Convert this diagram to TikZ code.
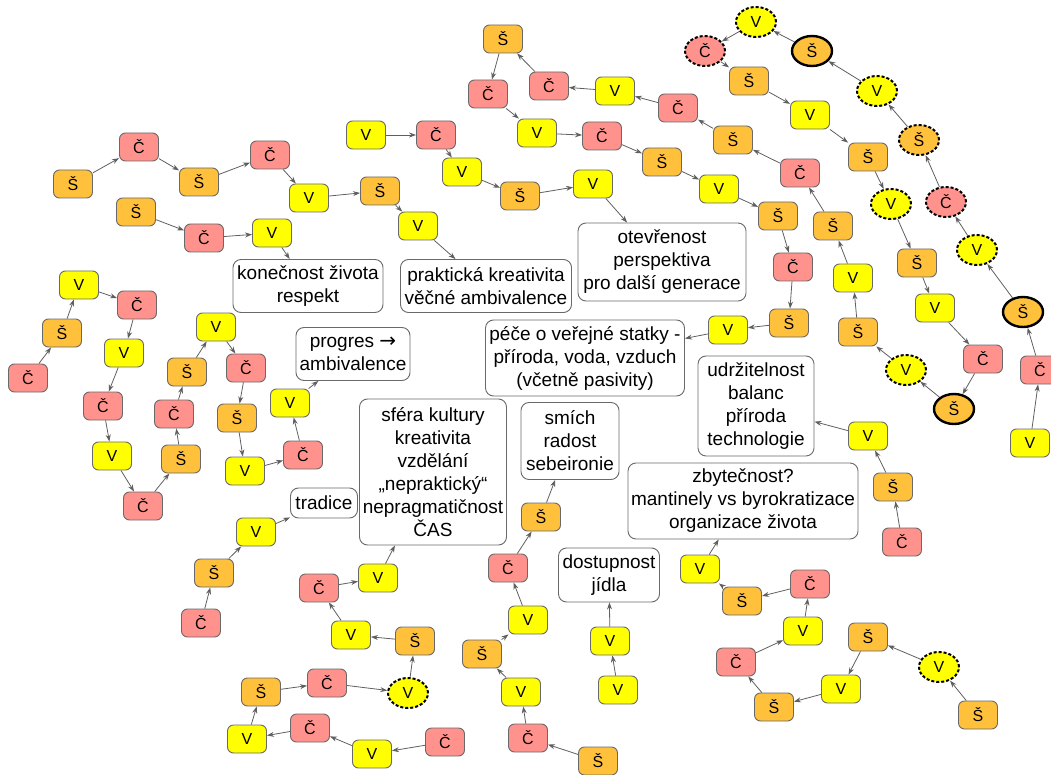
\documentclass[tikz,border=0pt]{standalone}
\usepackage{fontspec}
\setmainfont{Liberation Sans}
\newfontfamily\arrowfont{DejaVu Sans}
\usetikzlibrary{arrows.meta,shapes.geometric}
\definecolor{sorange}{RGB}{255,192,60}
\definecolor{cpink}{RGB}{255,146,140}
\definecolor{vyellow}{RGB}{255,255,0}
\definecolor{edgegray}{RGB}{95,95,95}
\definecolor{rimgray}{RGB}{105,105,105}
\tikzset{
  tok/.style={draw=rimgray, line width=0.9pt, rounded corners=6pt,
    minimum width=39pt, minimum height=28pt, inner sep=0pt,
    font=\fontsize{16}{16}\selectfont},
  ns/.style={tok, fill=sorange},
  nc/.style={tok, fill=cpink},
  nv/.style={tok, fill=vyellow},
  elld/.style={ellipse, sharp corners, draw=black, line width=2pt,
    dash pattern=on 3pt off 2pt, minimum width=40pt, minimum height=30pt},
  ellt/.style={ellipse, sharp corners, draw=black, line width=2.4pt,
    minimum width=40pt, minimum height=30pt},
  tbox/.style={draw=rimgray, line width=0.9pt, rounded corners=8pt,
    fill=white, align=center, inner sep=0pt,
    font=\fontsize{19}{23}\selectfont},
  arr/.style={draw=edgegray, line width=0.8pt,
    -{Stealth[length=7pt,width=5pt]}}
}
\begin{document}
\begin{tikzpicture}[x=1pt,y=-1pt]
\useasboundingbox (0,0) rectangle (1051,775);

% ---- text boxes ----
\node[tbox, minimum width=150pt, minimum height=53pt] (kone) at (308,286) {konečnost života\\respekt};
\node[tbox, minimum width=171pt, minimum height=53pt] (prak) at (486,286) {praktická kreativita\\věčné ambivalence};
\node[tbox, minimum width=114pt, minimum height=53pt] (prog) at (353,354) {progres {\arrowfont\fontsize{20}{23}\selectfont →}\\ambivalence};
\node[tbox, minimum width=168pt, minimum height=78pt] (otev) at (662,262) {otevřenost\\perspektiva\\pro další generace};
\node[tbox, minimum width=199pt, minimum height=76pt] (pece) at (585,358) {péče o veřejné statky -\\příroda, voda, vzduch\\(včetně pasivity)};
\node[tbox, minimum width=116pt, minimum height=100pt] (udrz) at (756,406) {udržitelnost\\balanc\\příroda\\technologie};
\node[tbox, minimum width=230pt, minimum height=76pt] (zbyt) at (743,501) {zbytečnost?\\mantinely vs byrokratizace\\organizace života};
\node[tbox, minimum width=98pt, minimum height=77pt] (smich) at (570,441) {smích\\radost\\sebeironie};
\node[tbox, minimum width=147pt, minimum height=146pt] (sfera) at (433,472) {sféra kultury\\kreativita\\vzdělání\\„nepraktický“\\nepragmatičnost\\ČAS};
\node[tbox, minimum width=101pt, minimum height=54pt] (dost) at (609,575) {dostupnost\\jídla};
\node[tbox, minimum width=67pt, minimum height=30pt] (trad) at (324,503) {tradice};

% ---- chain towards "praktická kreativita" ----
\node[ns] (a1) at (73,184) {Š};
\node[nc] (a2) at (139,147) {Č};
\node[ns] (a3) at (199,182) {Š};
\node[nc] (a4) at (270,155) {Č};
\node[nv] (a5) at (309,198) {V};
\node[ns] (a6) at (380,191) {Š};
\node[nv] (a7) at (418,226) {V};

% ---- chain towards "konečnost života" ----
\node[ns] (b1) at (136,212) {Š};
\node[nc] (b2) at (204,238) {Č};
\node[nv] (b3) at (272,233) {V};

% ---- left zig-zag towards "progres" ----
\node[nc] (c1) at (28,378) {Č};
\node[ns] (c2) at (62,333) {Š};
\node[nv] (c3) at (79,285) {V};
\node[nc] (c4) at (137,305) {Č};
\node[nv] (c5) at (124,353) {V};
\node[nc] (c6) at (103,406) {Č};
\node[nv] (c7) at (112,456) {V};
\node[nc] (c8) at (143,506) {Č};
\node[ns] (c9) at (181,459) {Š};
\node[nc] (c10) at (174,414) {Č};
\node[ns] (c11) at (187,372) {Š};
\node[nv] (c12) at (216,327) {V};
\node[nc] (c13) at (246,368) {Č};
\node[ns] (c14) at (237,418) {Š};
\node[nv] (c15) at (245,471) {V};
\node[nc] (c16) at (303,455) {Č};
\node[nv] (c17) at (290,403) {V};

% ---- chain towards "otevřenost" ----
\node[nv] (d1) at (366,135) {V};
\node[nc] (d2) at (436,135) {Č};
\node[nv] (d3) at (462,172) {V};
\node[ns] (d4) at (520,196) {Š};
\node[nv] (d5) at (593,184) {V};

% ---- long chain towards "péče o veřejné statky" ----
\node[nv] (e1) at (1030,443) {V};
\node[nc] (e2) at (1040,370) {Č};
\node[ellt, fill=sorange, font=\fontsize{16}{16}\selectfont] (e3) at (1023,312) {Š};
\node[elld, fill=vyellow, font=\fontsize{16}{16}\selectfont] (e4) at (977,250) {V};
\node[elld, fill=cpink, font=\fontsize{16}{16}\selectfont] (e5) at (946,202) {Č};
\node[elld, fill=sorange, font=\fontsize{16}{16}\selectfont] (e6) at (919,140) {Š};
\node[elld, fill=vyellow, font=\fontsize{16}{16}\selectfont] (e7) at (877,91) {V};
\node[ellt, fill=sorange, font=\fontsize{16}{16}\selectfont] (e8) at (812,51) {Š};
\node[elld, fill=vyellow, font=\fontsize{16}{16}\selectfont] (e9) at (756,22) {V};
\node[elld, fill=cpink, font=\fontsize{16}{16}\selectfont] (e10) at (705,51) {Č};
\node[ns] (e11) at (749,81) {Š};
\node[nv] (e12) at (810,115) {V};
\node[ns] (e13) at (868,157) {Š};
\node[elld, fill=vyellow, font=\fontsize{16}{16}\selectfont] (e14) at (891,204) {V};
\node[ns] (e15) at (917,263) {Š};
\node[nv] (e16) at (935,308) {V};
\node[nc] (e17) at (983,359) {Č};
\node[ellt, fill=sorange, font=\fontsize{16}{16}\selectfont] (e18) at (954,409) {Š};
\node[elld, fill=vyellow, font=\fontsize{16}{16}\selectfont] (e19) at (906,370) {V};
\node[ns] (e20) at (858,332) {Š};
\node[nv] (e21) at (853,278) {V};
\node[ns] (e22) at (833,226) {Š};
\node[nc] (e23) at (800,173) {Č};
\node[ns] (e24) at (733,140) {Š};
\node[nc] (e25) at (678,108) {Č};
\node[nv] (e26) at (615,91) {V};
\node[nc] (e27) at (549,86) {Č};
\node[ns] (e28) at (503,39) {Š};
\node[nc] (e29) at (488,94) {Č};
\node[nv] (e30) at (537,133) {V};
\node[nc] (e31) at (602,136) {Č};
\node[ns] (e32) at (662,162) {Š};
\node[nv] (e33) at (719,189) {V};
\node[ns] (e34) at (778,216) {Š};
\node[nc] (e35) at (793,267) {Č};
\node[ns] (e36) at (789,323) {Š};
\node[nv] (e37) at (728,330) {V};

% ---- chain towards "udržitelnost" ----
\node[nc] (f1) at (902,542) {Č};
\node[ns] (f2) at (893,487) {Š};
\node[nv] (f3) at (868,436) {V};

% ---- chain towards "tradice" ----
\node[nc] (g1) at (201,623) {Č};
\node[ns] (g2) at (214,573) {Š};
\node[nv] (g3) at (256,532) {V};

% ---- chain towards "sféra kultury" ----
\node[nc] (h1) at (445,742) {Č};
\node[nv] (h2) at (372,754) {V};
\node[nc] (h3) at (310,728) {Č};
\node[nv] (h4) at (247,739) {V};
\node[ns] (h5) at (261,692) {Š};
\node[nc] (h6) at (327,683) {Č};
\node[elld, fill=vyellow, font=\fontsize{16}{16}\selectfont] (h7) at (408,693) {V};
\node[ns] (h8) at (415,641) {Š};
\node[nv] (h9) at (351,635) {V};
\node[nc] (h10) at (319,588) {Č};
\node[nv] (h11) at (378,578) {V};

% ---- chain towards "smích" ----
\node[ns] (i1) at (598,761) {Š};
\node[nc] (i2) at (528,738) {Č};
\node[nv] (i3) at (521,692) {V};
\node[ns] (i4) at (482,654) {Š};
\node[nv] (i5) at (528,620) {V};
\node[nc] (i6) at (508,568) {Č};
\node[ns] (i7) at (541,517) {Š};

% ---- chain towards "dostupnost" ----
\node[nv] (j1) at (618,690) {V};
\node[nv] (j2) at (610,641) {V};

% ---- chain towards "zbytečnost" ----
\node[ns] (k1) at (978,715) {Š};
\node[elld, fill=vyellow, font=\fontsize{16}{16}\selectfont] (k2) at (939,667) {V};
\node[ns] (k3) at (868,637) {Š};
\node[nv] (k4) at (841,689) {V};
\node[ns] (k5) at (774,707) {Š};
\node[nc] (k6) at (736,662) {Č};
\node[nv] (k7) at (803,631) {V};
\node[nc] (k8) at (810,584) {Č};
\node[ns] (k9) at (742,601) {Š};
\node[nv] (k10) at (700,569) {V};

% ---- connectors ----
\foreach \p/\q in {a1/a2,a2/a3,a3/a4,a4/a5,a5/a6,a6/a7,a7/prak,
  b1/b2,b2/b3,b3/kone,
  c1/c2,c2/c3,c3/c4,c4/c5,c5/c6,c6/c7,c7/c8,c8/c9,c9/c10,c10/c11,
  c11/c12,c12/c13,c13/c14,c14/c15,c15/c16,c16/c17,c17/prog,
  d1/d2,d2/d3,d3/d4,d4/d5,d5/otev,
  e1/e2,e2/e3,e3/e4,e4/e5,e5/e6,e6/e7,e7/e8,e8/e9,e9/e10,e10/e11,
  e11/e12,e12/e13,e13/e14,e14/e15,e15/e16,e16/e17,e17/e18,e18/e19,
  e19/e20,e20/e21,e21/e22,e22/e23,e23/e24,e24/e25,e25/e26,e26/e27,
  e27/e28,e28/e29,e29/e30,e30/e31,e31/e32,e32/e33,e33/e34,e34/e35,
  e35/e36,e36/e37,e37/pece,
  f1/f2,f2/f3,f3/udrz,
  g1/g2,g2/g3,g3/trad,
  h1/h2,h2/h3,h3/h4,h4/h5,h5/h6,h6/h7,h7/h8,h8/h9,h9/h10,h10/h11,h11/sfera,
  i1/i2,i2/i3,i3/i4,i4/i5,i5/i6,i6/i7,i7/smich,
  j1/j2,j2/dost,
  k1/k2,k2/k3,k3/k4,k4/k5,k5/k6,k6/k7,k7/k8,k8/k9,k9/k10,k10/zbyt}
  \draw[arr] (\p) -- (\q);
\end{tikzpicture}
\end{document}
